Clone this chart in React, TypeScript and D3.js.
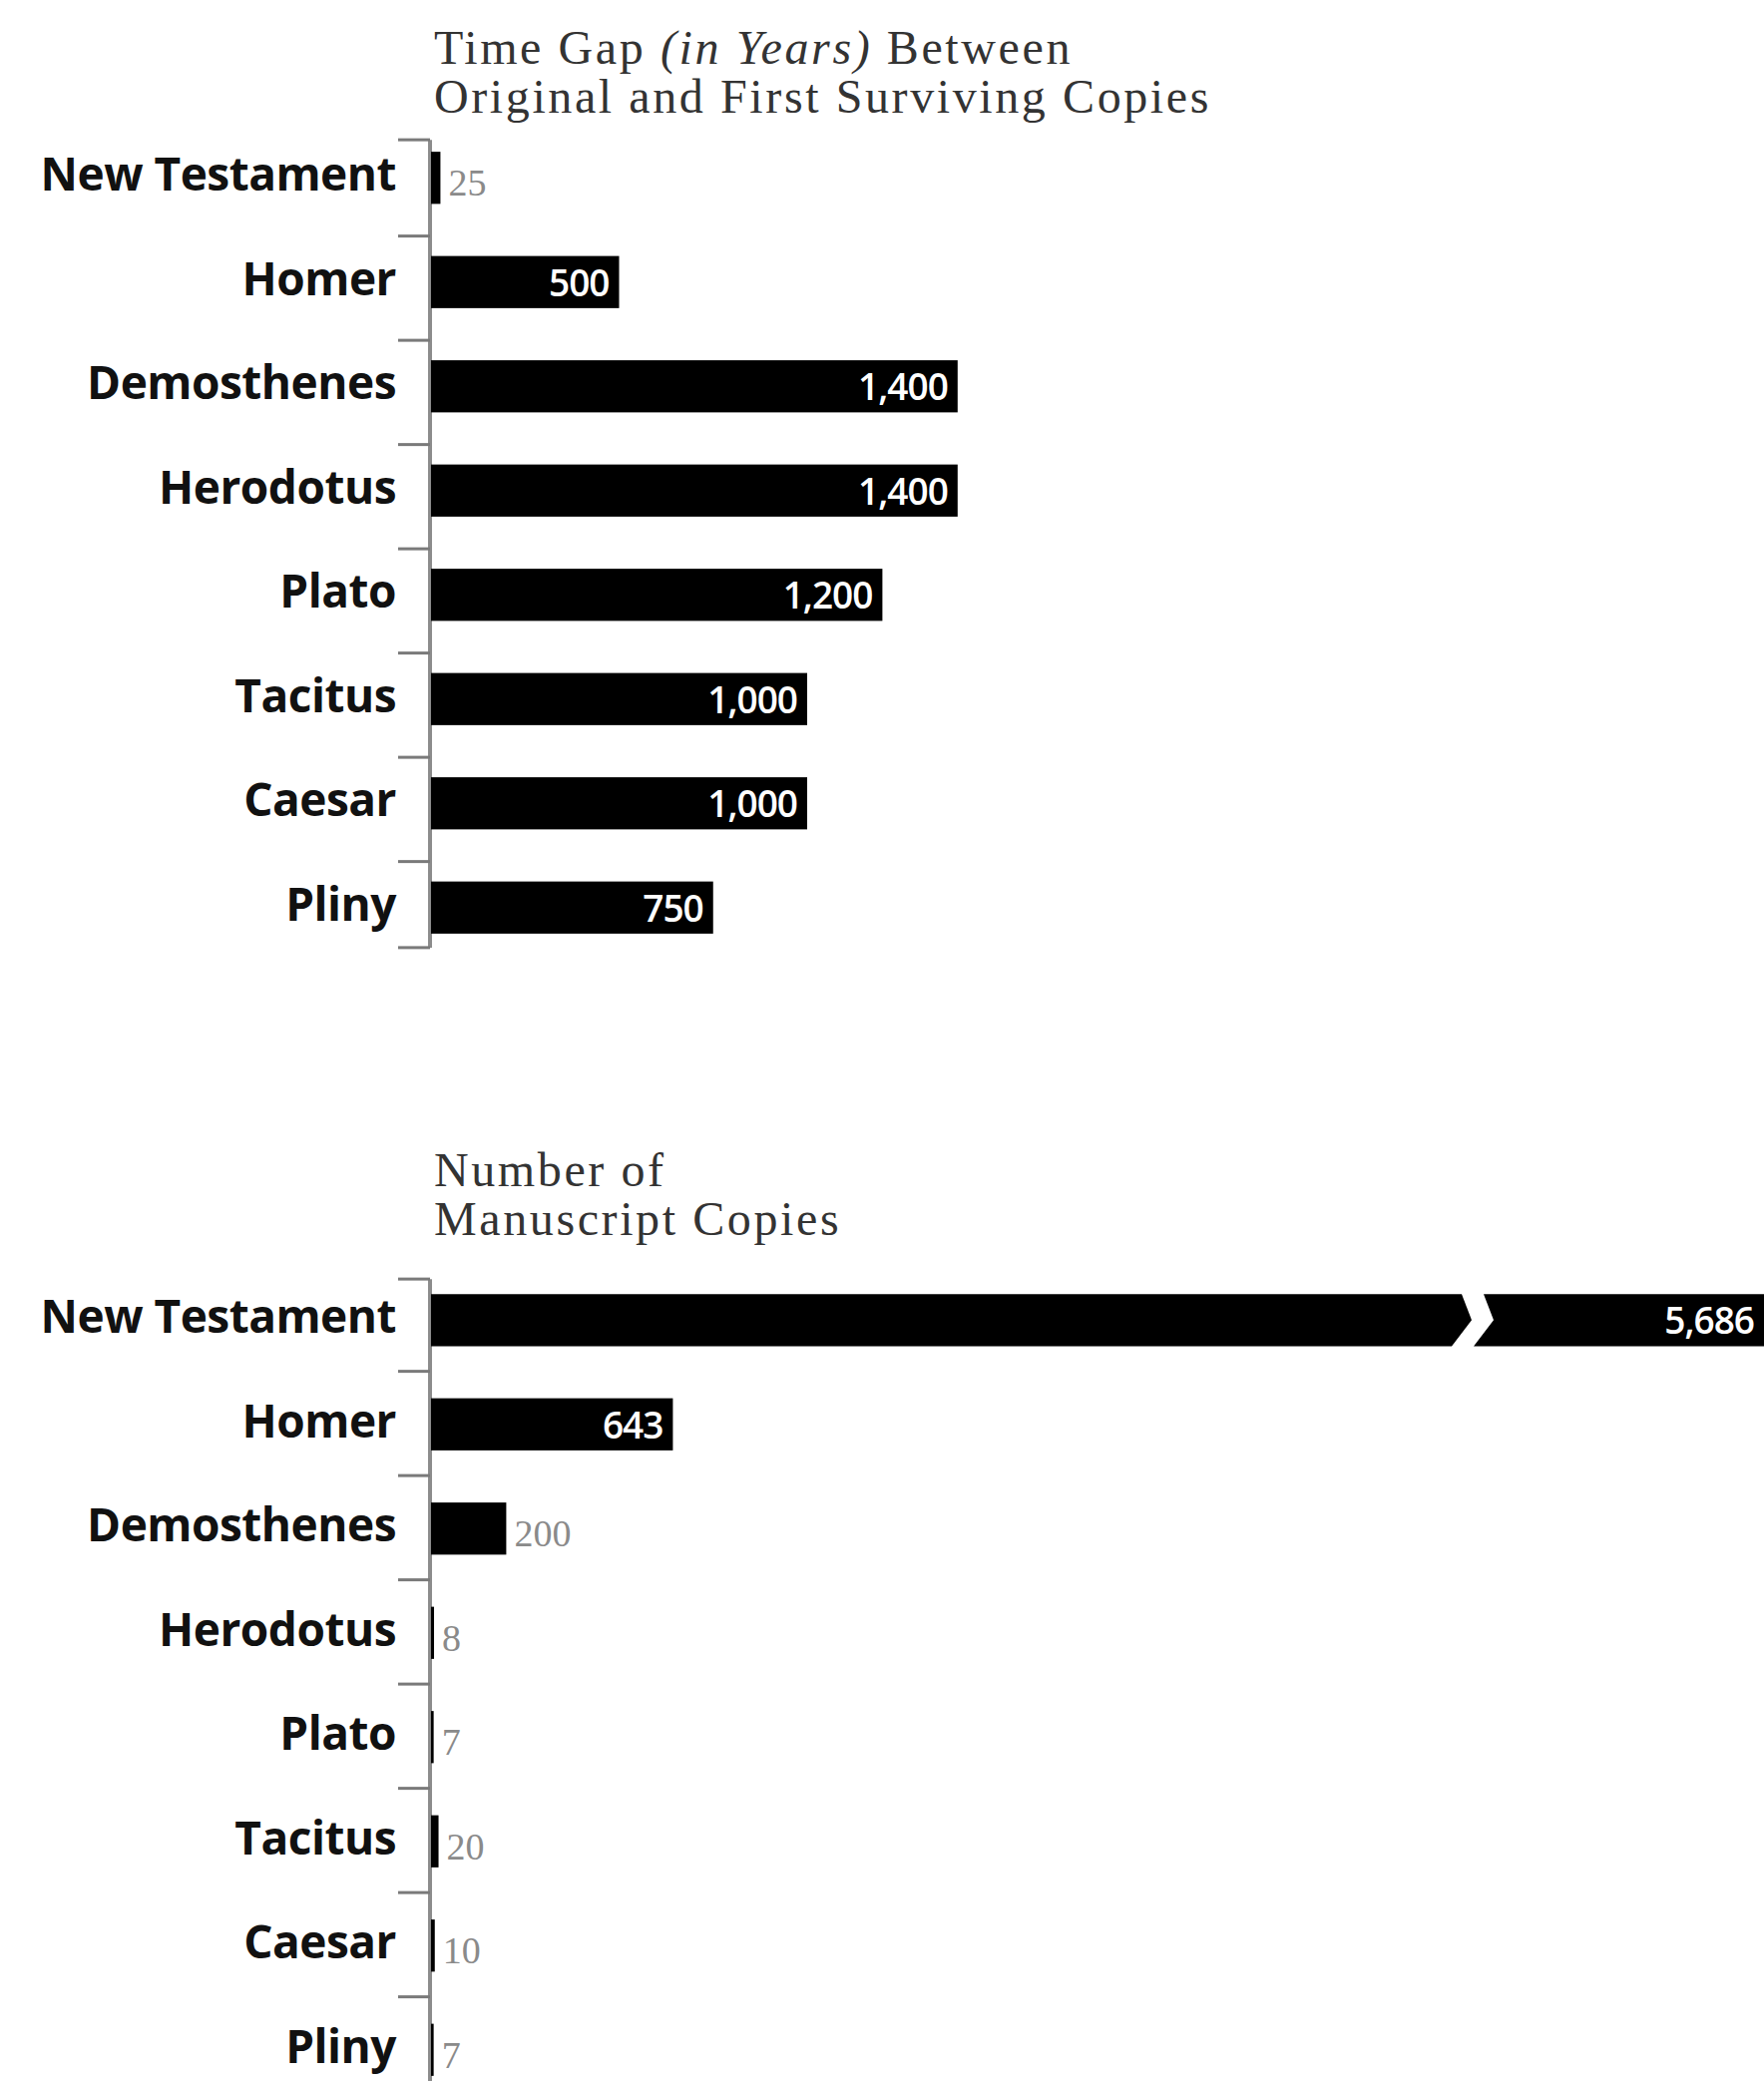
import React from 'react'
import * as d3 from 'd3'

const width = 1768
const height = 2086

const categories = ['New Testament', 'Homer', 'Demosthenes', 'Herodotus', 'Plato', 'Tacitus', 'Caesar', 'Pliny']
const timeGapYears = [25, 500, 1400, 1400, 1200, 1000, 1000, 750]
const manuscriptCopies = [5686, 643, 200, 8, 7, 20, 10, 7]
const timeGapTitle = ['Time Gap ', '(in Years)', ' Between']
const timeGapTitle2 = 'Original and First Surviving Copies'
const copiesTitle = ['Number of', 'Manuscript Copies']

const axisX = 432
const breakAt = 1465 // where an overflowing bar is cut
const fmt = d3.format(',')

// same px-per-unit scale in both panels
const x = d3.scaleLinear().domain([0, 1000]).range([axisX, axisX + 377])

type PanelProps = {
  values: number[],
  bandTop: number,
  step: number,
  tickGap: number,
  firstTickGap: number,
}

function Panel({ values, bandTop, step, tickGap, firstTickGap }: PanelProps) {
  const y = d3.scaleBand<string>()
    .domain(categories)
    .range([bandTop, bandTop + step * categories.length])
    .paddingInner(0.5)
    .paddingOuter(0.25)
  const bw = y.bandwidth()
  const last = categories[categories.length - 1]
  const ticks = categories.map((c, i) => y(c)! - (i === 0 ? firstTickGap : tickGap))
  ticks.push(y(last)! + bw + 14)

  return (
    <g>
      <line x1={axisX - 1} x2={axisX - 1} y1={ticks[0]} y2={ticks[ticks.length - 1]}
        stroke="#8c8c8c" strokeWidth={4} />
      {ticks.map((t, i) => (
        <line key={i} x1={axisX - 33} x2={axisX - 1} y1={t} y2={t} stroke="#7a7a7a" strokeWidth={3} />
      ))}
      {categories.map((c, i) => {
        const v = values[i]
        const top = y(c)!
        const mid = top + bw / 2
        const end = x(v)
        const overflow = end > width
        const barW = end - axisX
        return (
          <g key={c}>
            <text x={397} y={mid + 13} textAnchor="end" fontFamily="'Open Sans', sans-serif"
              fontWeight={700} fontSize={46} fill="#111" letterSpacing={-0.5}>{c}</text>
            {overflow ? (
              <g fill="#000">
                <path d={`M${axisX},${top}H${breakAt}L${breakAt + 10},${mid}L${breakAt - 10},${top + bw}H${axisX}Z`} />
                <path d={`M${breakAt + 22},${top}L${breakAt + 32},${mid}L${breakAt + 12},${top + bw}H${width}V${top}Z`} />
              </g>
            ) : (
              <rect x={axisX} y={top} width={barW} height={bw} fill="#000" />
            )}
            {barW > 100 ? (
              <text x={Math.min(end, width) - 10} y={mid + 14} textAnchor="end"
                fontFamily="'Open Sans', sans-serif" fontWeight={600} fontSize={37}
                fill="#fff" letterSpacing={-1}>{fmt(v)}</text>
            ) : (
              <text x={end + 8} y={mid + 18} fontFamily="'Liberation Serif', serif"
                fontSize={38} fill="#8a8a8a">{fmt(v)}</text>
            )}
          </g>
        )
      })}
    </g>
  )
}

export default function App() {
  const titleStyle = {
    fontFamily: "'Liberation Serif', serif",
    fontSize: 48,
    fill: '#333',
    letterSpacing: 2.6,
  }
  return (
    <svg width={width} height={height} style={{ position: 'absolute', left: 0, top: 0, display: 'block', background: '#fff' }}>
      <text x={435} y={64} style={titleStyle}>
        {timeGapTitle[0]}
        <tspan fontStyle="italic">{timeGapTitle[1]}</tspan>
        {timeGapTitle[2]}
      </text>
      <text x={435} y={113} style={titleStyle}>{timeGapTitle2}</text>
      <Panel values={timeGapYears} bandTop={126} step={104.5} tickGap={20} firstTickGap={12} />

      <text x={435} y={1189} style={titleStyle}>{copiesTitle[0]}</text>
      <text x={435} y={1238} style={titleStyle}>{copiesTitle[1]}</text>
      <Panel values={manuscriptCopies} bandTop={1271} step={104.5} tickGap={27} firstTickGap={15} />
    </svg>
  )
}
